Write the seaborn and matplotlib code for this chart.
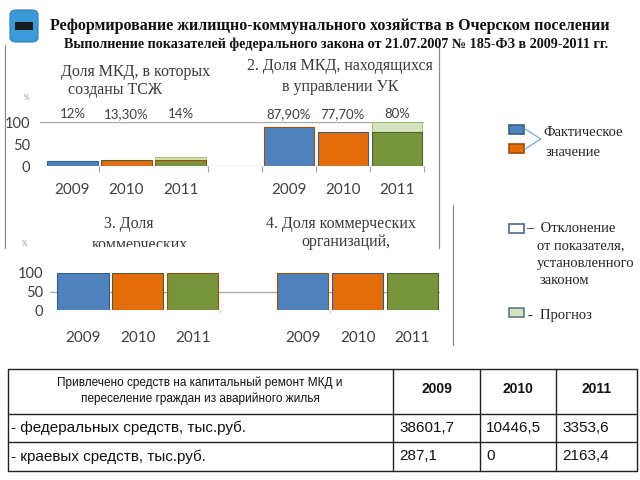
import numpy as np
import pandas as pd
import matplotlib.pyplot as plt
import seaborn as sns
from matplotlib.lines import Line2D
from matplotlib.patches import Rectangle, FancyBboxPatch

# ---- data ----
years = ["2009", "2010", "2011"]

tsj_share = [12, 13.3, 14]          # 1. Доля МКД, в которых созданы ТСЖ
tsj_plan = [12, 13.3, 20]
tsj_labels = ["12%", "13,30%", "14%"]

uk_share = [87.9, 77.7, 78]          # 2. Доля МКД в управлении УК
uk_plan = [87.9, 77.7, 100]
uk_labels = ["87,90%", "77,70%", "80%"]

comm_share = [100, 100, 100]         # 3. Доля коммерческих ...
comm_org_share = [100, 100, 100]     # 4. Доля коммерческих организаций

table_head = "Привлечено средств на капитальный ремонт МКД и\nпереселение граждан из аварийного жилья"
table_rows = ["- федеральных средств, тыс.руб.", "- краевых средств, тыс.руб."]
federal_funds = ["38601,7", "10446,5", "3353,6"]
regional_funds = ["287,1", "0", "2163,4"]

# ---- style ----
sns.set_theme(style="white")
plt.rcParams["font.family"] = ["Lato", "DejaVu Sans"]

fact_colors = {"2009": "#4f81bd", "2010": "#e46c0a", "2011": "#77933c"}
edge_colors = ["#385d8a", "#a34c06", "#4f6228"]
plan_color = "#d4e3bd"
grid_gray = "#a6a6a6"
text_gray = "#404040"
serif = ["Liberation Serif", "DejaVu Serif"]

W, H = 640, 480
fig = plt.figure(figsize=(6.4, 4.8), dpi=100)


def fx(x):
    return x / W


def fy(y):
    return 1 - y / H


def panel(left, right, top, bottom):
    return fig.add_axes([fx(left), fy(bottom), (right - left) / W, (bottom - top) / H])


# both rows share the same layout: two groups of three years with a gap
pos = np.r_[np.arange(3), np.arange(3) + 4]


def draw_bars(ax, fact, plan=None):
    df = pd.DataFrame({"pos": pos, "year": years * 2, "fact": fact})
    if plan is not None:
        df["plan"] = plan
        sns.barplot(data=df, x="pos", y="plan", color=plan_color, native_scale=True,
                    width=0.93, edgecolor="#9bbb59", linewidth=0.6, saturation=1,
                    ax=ax, zorder=2)
    sns.barplot(data=df, x="pos", y="fact", hue="year", palette=fact_colors,
                native_scale=True, dodge=False, width=0.93, saturation=1,
                legend=False, ax=ax, zorder=3)
    for i, bar in enumerate(ax.patches[-6:]):
        bar.set_edgecolor(edge_colors[i % 3])
        bar.set_linewidth(0.8)
    ax.set_xlim(-0.6, 6.5)
    ax.set_ylim(0, 100)
    ax.set_yticks([0, 50, 100])
    ax.set_xticks(pos)
    ax.set_xticklabels(years * 2)
    ax.set_xlabel("")
    ax.set_ylabel("")
    ax.patch.set_alpha(0)
    for s in ["top", "right", "left", "bottom"]:
        ax.spines[s].set_visible(False)


# ---- top row: charts 1 and 2 ----
ax1 = panel(40, 424, 122, 166)
draw_bars(ax1, tsj_share + uk_share, tsj_plan + uk_plan)
ax1.axhline(100, color=grid_gray, lw=0.9, zorder=1)
ax1.axhline(0, color=grid_gray, lw=0.9, zorder=4)
ax1.set_xticks([0.5, 2.5, 3.5, 4.5, 5.5, 6.5], minor=True)
ax1.tick_params(axis="x", which="minor", length=4, width=0.8, color=grid_gray, bottom=True)
ax1.tick_params(axis="x", which="major", length=0, pad=12, labelsize=11, labelcolor=text_gray)
ax1.tick_params(axis="y", length=0, pad=7, labelsize=10.5, labelcolor=text_gray)
for p, lab in zip(pos, tsj_labels + uk_labels):
    ax1.annotate(lab, (p, 100), xytext=(0, 1.5), textcoords="offset points",
                 ha="center", va="bottom", fontsize=9.5, color=text_gray)

# ---- bottom row: charts 3 and 4 ----
ax2 = panel(50, 440, 273, 310)
draw_bars(ax2, comm_share + comm_org_share)
ax2.axhline(50, color=grid_gray, lw=0.9, zorder=1)
ax2.set_xticks([2.5, 4.5], minor=True)
ax2.tick_params(axis="x", which="minor", length=3, width=0.6, color="#d0d0d0", bottom=True)
ax2.tick_params(axis="x", which="major", length=0, pad=15, labelsize=11, labelcolor=text_gray)
ax2.tick_params(axis="y", length=0, pad=5, labelsize=10.5, labelcolor=text_gray)

# ---- chart titles ----
title_kw = dict(family=serif, fontsize=11.5, color="#3a3a3a", va="center")
fig.text(fx(136), fy(72), "Доля МКД, в которых", ha="center", **title_kw)
fig.text(fx(68), fy(90), "созданы ТСЖ", ha="left", **title_kw)
fig.text(fx(340), fy(66), "2. Доля МКД, находящихся", ha="center", **title_kw)
fig.text(fx(340), fy(87), "в управлении УК", ha="center", **title_kw)
fig.text(fx(129), fy(224), "3. Доля", ha="center", **title_kw)
fig.text(fx(140), fy(245), "коммерческих", ha="center", **title_kw)
fig.text(fx(341), fy(224), "4. Доля коммерческих", ha="center", **title_kw)
fig.text(fx(346), fy(242), "организаций,", ha="center", **title_kw)
fig.patches.append(Rectangle((fx(60), fy(262)), 170 / W, 15 / H, transform=fig.transFigure,
                             facecolor="white", edgecolor="none", zorder=10))
fig.text(fx(26), fy(97), "%", fontsize=5, color="#909090", ha="center", va="center")
fig.text(fx(24), fy(244), "%", fontsize=5, color="#909090", ha="center", va="center")

# frame lines around the chart block
for x, y0, y1 in [(5, 45, 248), (439, 40, 248), (453, 205, 345)]:
    fig.lines.append(Line2D([fx(x), fx(x)], [fy(y0), fy(y1)], transform=fig.transFigure,
                            color="#8c8c8c", lw=0.9))

# ---- header ----
fig.patches.append(FancyBboxPatch((fx(10), fy(42)), 28 / W, 32 / H, transform=fig.transFigure,
                                  boxstyle="round,pad=0,rounding_size=0.01",
                                  facecolor="#3d9ad9", edgecolor="#2a7bbf", lw=0.8))
fig.patches.append(Rectangle((fx(15), fy(30)), 18 / W, 8 / H, transform=fig.transFigure,
                             facecolor="#1a1a1a", edgecolor="none"))
fig.text(fx(50), fy(26), "Реформирование жилищно-коммунального хозяйства в Очерском поселении",
         family=serif, weight="bold", fontsize=11.5, ha="left", va="center", color="#111111")
fig.text(fx(64), fy(44), "Выполнение показателей федерального закона от 21.07.2007 № 185-ФЗ в 2009-2011 гг.",
         family=serif, weight="bold", fontsize=10.2, ha="left", va="center", color="#111111")

# ---- legend (right side) ----
def legend_box(x, y, face, edge):
    fig.patches.append(Rectangle((fx(x), fy(y + 9)), 15 / W, 9 / H, transform=fig.transFigure,
                                 facecolor=face, edgecolor=edge, lw=1.2))


legend_box(509, 125, fact_colors["2009"], edge_colors[0])
legend_box(509, 144, fact_colors["2010"], edge_colors[1])
fig.lines.append(Line2D([fx(525), fx(541), fx(525)], [fy(129), fy(139), fy(149)],
                        transform=fig.transFigure, color="#7da7d9", lw=0.9))
legend_box(509, 224, "white", "#4a6a94")
legend_box(509, 308, plan_color, "#5e7a8c")

leg_kw = dict(family=serif, fontsize=10.5, color="#222222", ha="left", va="center")
fig.text(fx(543), fy(133), "Фактическое", **leg_kw)
fig.text(fx(546), fy(152), "значение", **leg_kw)
fig.text(fx(526), fy(228), "–  Отклонение", **leg_kw)
fig.text(fx(537), fy(246), "от показателя,", **leg_kw)
fig.text(fx(537), fy(264), "установленного", **leg_kw)
fig.text(fx(540), fy(281), "законом", **leg_kw)
fig.text(fx(528), fy(315), "-  Прогноз", **leg_kw)

# ---- funding table ----
col_x = [8, 393, 480, 556, 637]
row_y = [369, 414, 442, 471]
for y in row_y:
    fig.lines.append(Line2D([fx(col_x[0]), fx(col_x[-1])], [fy(y), fy(y)],
                            transform=fig.transFigure, color="#222222", lw=1))
for x in col_x:
    fig.lines.append(Line2D([fx(x), fx(x)], [fy(row_y[0]), fy(row_y[-1])],
                            transform=fig.transFigure, color="#222222", lw=1))

tab_font = ["Liberation Sans", "DejaVu Sans"]
fig.text(fx(200), fy(391), table_head, family=tab_font, fontsize=8.5, ha="center",
         va="center", linespacing=1.4, color="#111111")
for i, yr in enumerate(years):
    cx = (col_x[i + 1] + col_x[i + 2]) / 2
    fig.text(fx(cx), fy(389), yr, family=tab_font, weight="bold", fontsize=10,
             ha="center", va="center", color="#111111")
for r, (name, vals) in enumerate(zip(table_rows, [federal_funds, regional_funds])):
    cy = (row_y[r + 1] + row_y[r + 2]) / 2
    fig.text(fx(11), fy(cy), name, family=tab_font, fontsize=11, ha="left",
             va="center", color="#111111")
    for i, v in enumerate(vals):
        fig.text(fx(col_x[i + 1] + 6), fy(cy), v, family=tab_font, fontsize=11,
                 ha="left", va="center", color="#111111")

fig.savefig("out.png", dpi=100)
